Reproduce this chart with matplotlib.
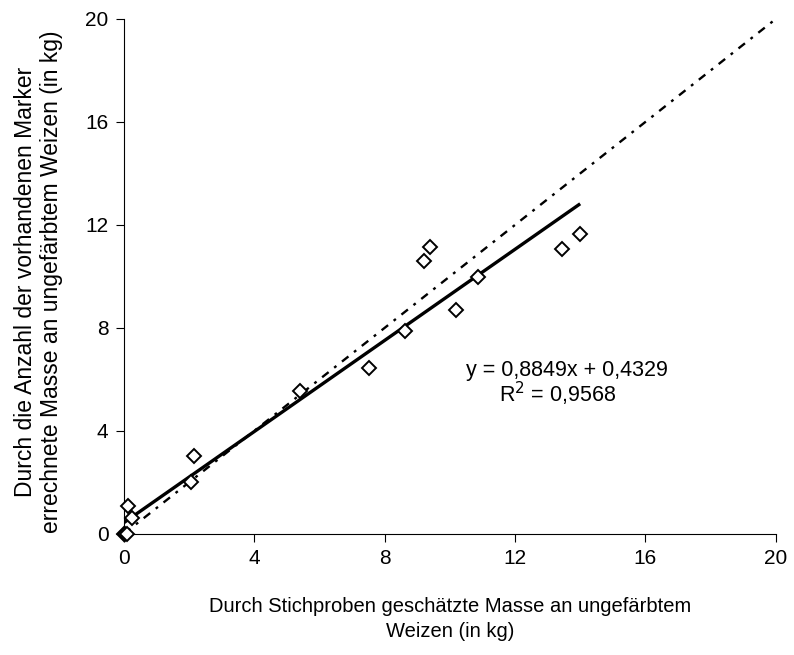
import numpy as np
import matplotlib
matplotlib.use("Agg")
import matplotlib.pyplot as plt

plt.rcParams['font.family'] = ['Liberation Sans', 'DejaVu Sans']

# Stichproben-Masse (x) vs. errechnete Masse (y), in kg
x_sample = [0.0, 0.05, 0.1, 0.13, 0.24, 2.05, 2.16, 5.40, 7.52, 8.62,
            9.21, 9.40, 10.18, 10.87, 13.44, 13.99]
y_marker = [0.0, 0.0, 0.0, 1.09, 0.63, 2.03, 3.03, 5.55, 6.45, 7.88,
            10.6, 11.16, 8.70, 9.99, 11.07, 11.64]

slope = 0.8849
intercept = 0.4329
r2 = 0.9568
fit_x = [0, 14]
ticks = [0, 4, 8, 12, 16, 20]

fig = plt.figure(figsize=(7.94, 6.55), dpi=100)
ax = fig.add_axes([0.156, 0.185, 0.821, 0.786])

# 1:1 line
ax.plot([0, 20], [0, 20], color='black', lw=1.7,
        linestyle=(0, (3.5, 3.0, 1.2, 3.0)))
# Regressionsgerade
fit_y = [slope * v + intercept for v in fit_x]
ax.plot(fit_x, fit_y, color='black', lw=2.4, solid_capstyle='butt')
ax.plot(x_sample, y_marker, linestyle='none', marker='D', markersize=7.5,
        markerfacecolor='white', markeredgecolor='black', markeredgewidth=1.4,
        clip_on=False, zorder=3)

ax.text(13.6, 6.33, "y = 0,8849x + 0,4329", ha='center', va='center', fontsize=15.5)
ax.text(13.3, 5.44, "R$^2$ = 0,9568", ha='center', va='center', fontsize=15.5)

ax.set_xlim(0, 20)
ax.set_ylim(0, 20)
ax.set_xticks(ticks)
ax.set_yticks(ticks)
ax.tick_params(direction='out', length=6, width=0.8, labelsize=15, pad=5)
ax.spines['top'].set_visible(False)
ax.spines['right'].set_visible(False)

ax.set_xlabel("Durch Stichproben geschätzte Masse an ungefärbtem\nWeizen (in kg)",
              fontsize=14.5, linespacing=1.4)
ax.xaxis.set_label_coords(0.5, -0.122)
ax.set_ylabel("Durch die Anzahl der vorhandenen Marker\nerrechnete Masse an ungefärbtem Weizen (in kg)",
              fontsize=16.5, linespacing=1.2)
ax.yaxis.set_label_coords(-0.093, 0.49)

fig.savefig("out.png", dpi=100)
